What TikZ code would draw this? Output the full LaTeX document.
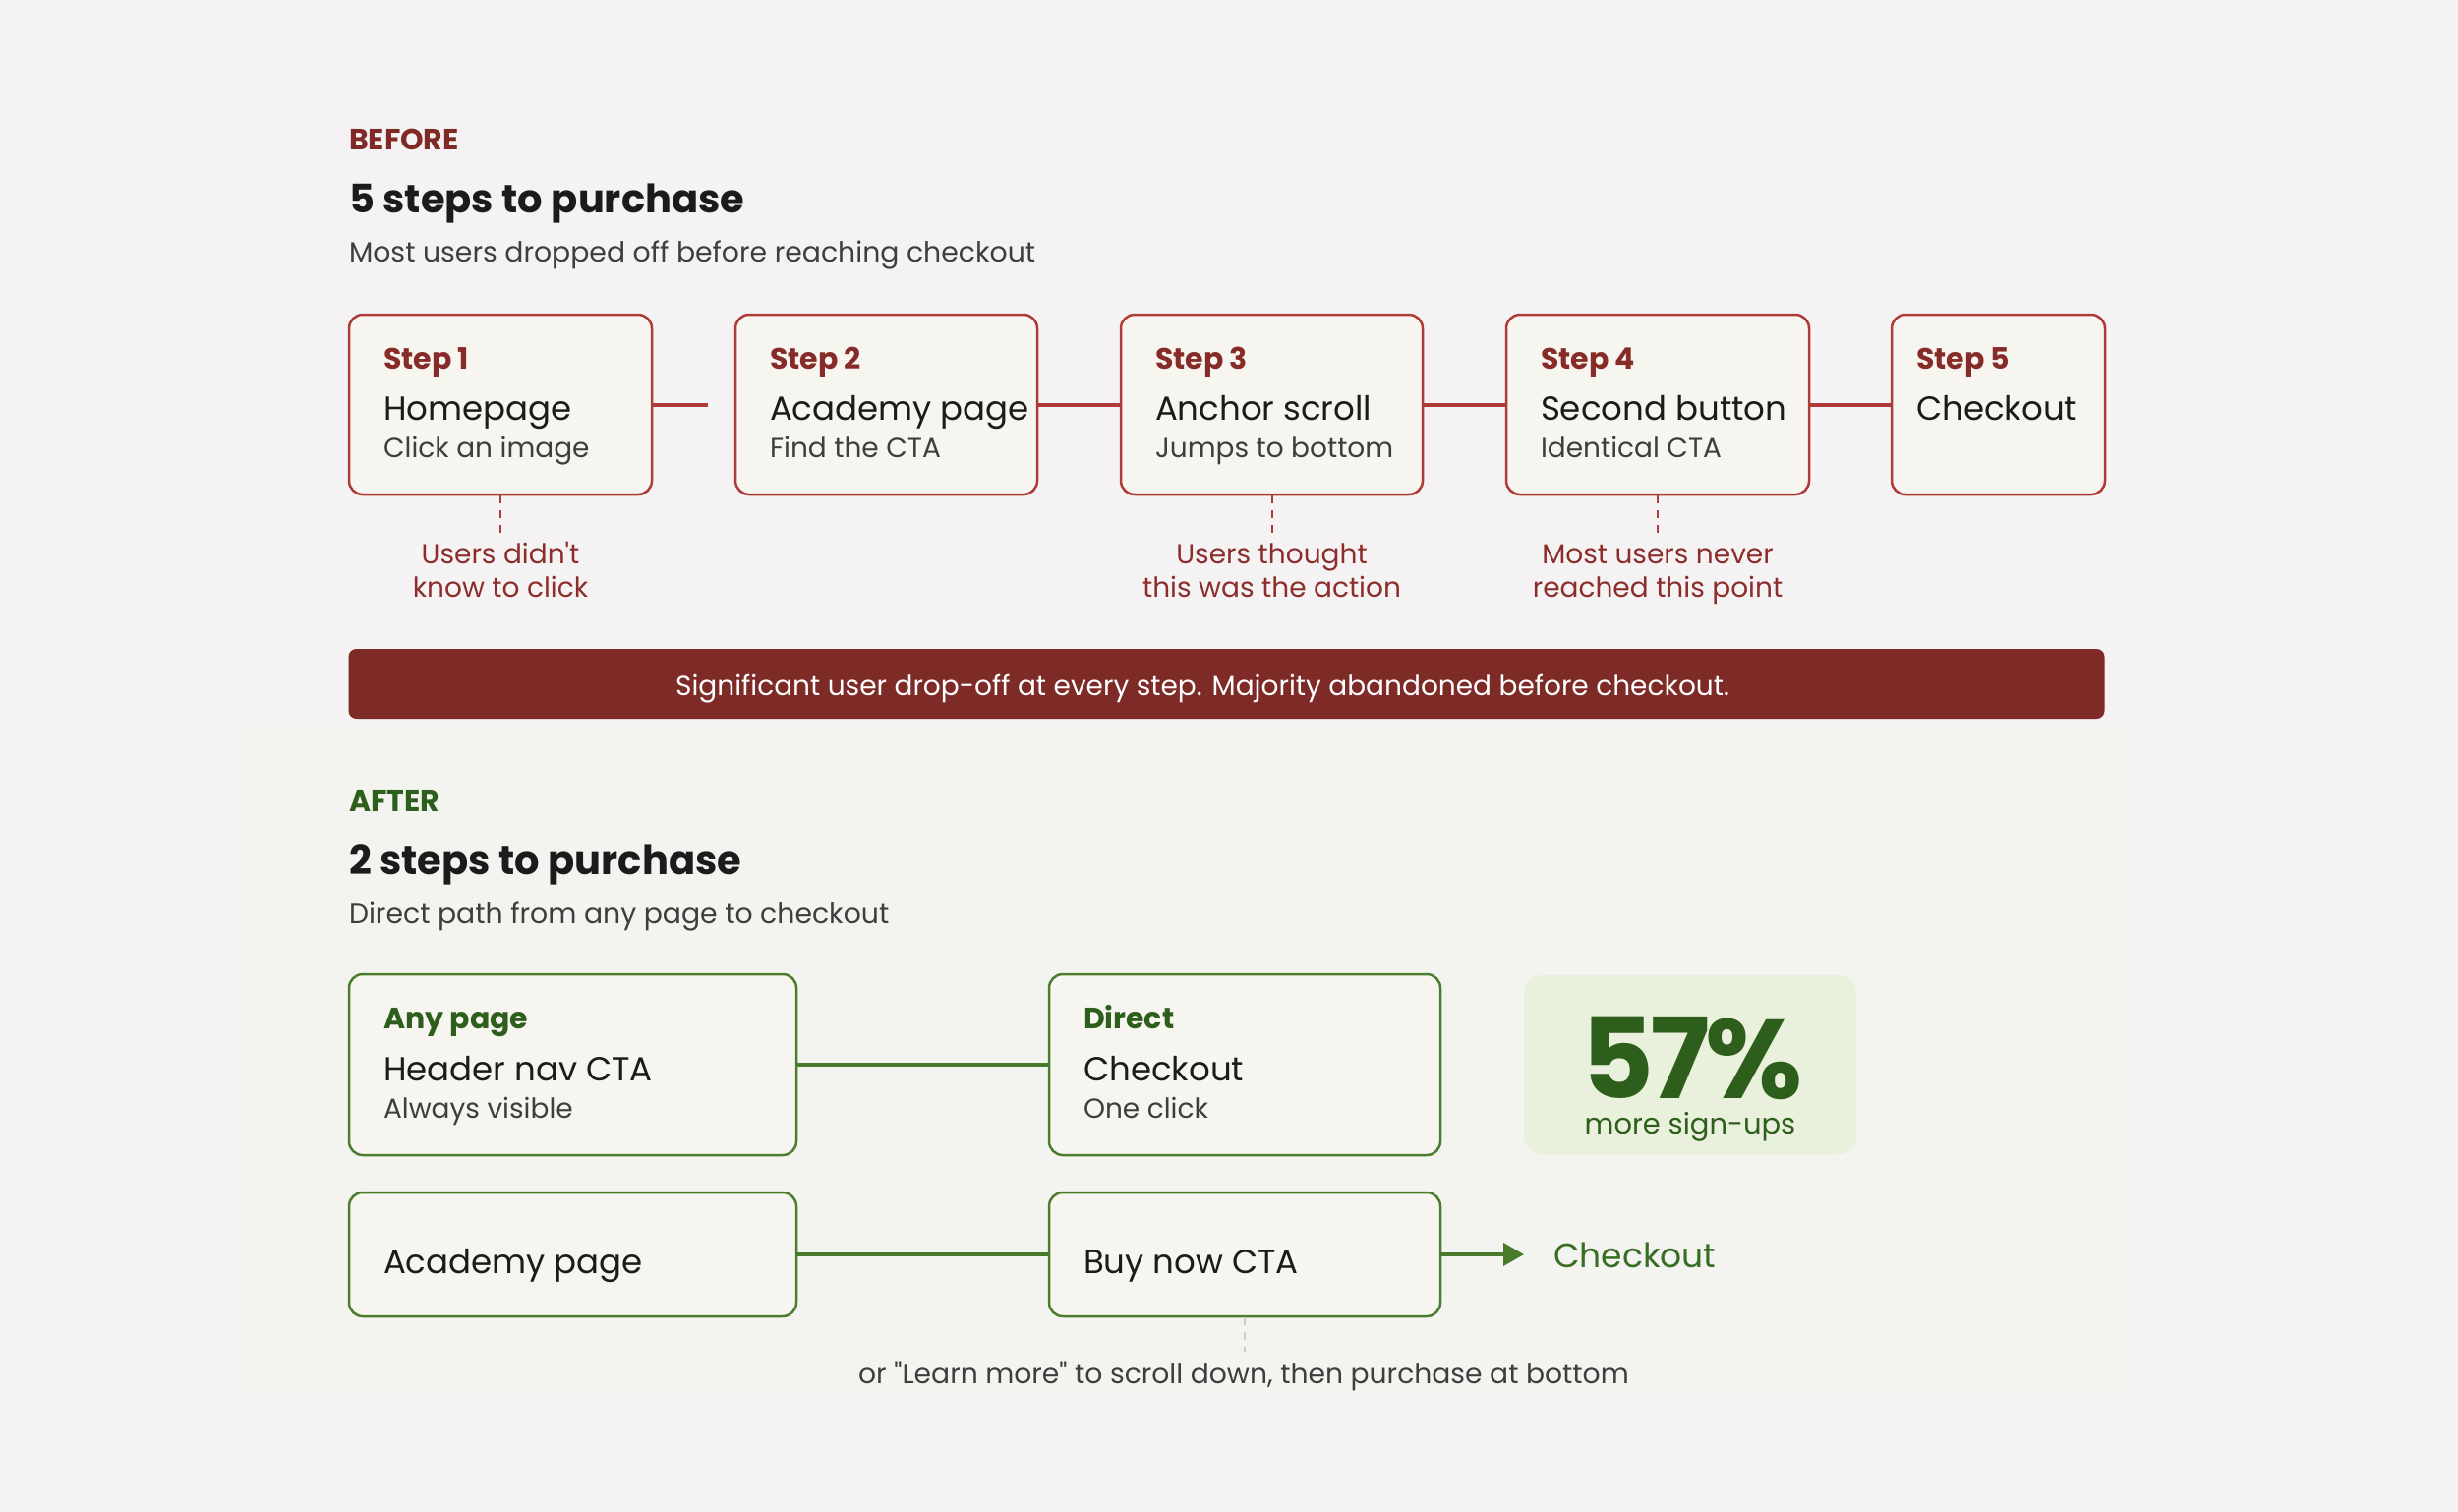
\documentclass[tikz,border=0pt]{standalone}
\usepackage{fontspec}
\setmainfont{Poppins}[Ligatures=TeXOff]
\usetikzlibrary{arrows.meta}
\definecolor{bg}{HTML}{F4F2F2}
\definecolor{panelbg}{HTML}{F3F3F0}
\definecolor{boxfill}{HTML}{F6F5EF}
\definecolor{boxred}{HTML}{AE3B37}
\definecolor{darkred}{HTML}{7F2A27}
\definecolor{labred}{HTML}{862B28}
\definecolor{notered}{HTML}{8B2E2B}
\definecolor{bannerred}{HTML}{7E2B28}
\definecolor{darkgreen}{HTML}{2E5E1B}
\definecolor{boxgreen}{HTML}{4B7D2E}
\definecolor{linegreen}{HTML}{477A2A}
\definecolor{ckgreen}{HTML}{3A6D24}
\definecolor{statbg}{HTML}{E9F0DC}
\definecolor{ink}{HTML}{1B1B1B}
\definecolor{subgray}{HTML}{3E3E3E}
\definecolor{dashgray}{HTML}{CCCCCC}
\newcommand{\fsz}[1]{\fontsize{#1}{#1}\selectfont}
\begin{document}
\begin{tikzpicture}[x=1pt,y=-1pt,
  txt/.style={anchor=base west, inner sep=0pt, outer sep=0pt},
  ctxt/.style={anchor=base, inner sep=0pt, outer sep=0pt},
  redbox/.style={draw=boxred, line width=2.5pt, fill=boxfill, rounded corners=14pt, minimum height=183pt, inner sep=0pt},
  greenbox/.style={draw=boxgreen, line width=2.5pt, fill=boxfill, rounded corners=14pt, inner sep=0pt},
  redline/.style={draw=boxred, line width=4pt},
  greenline/.style={draw=linegreen, line width=4pt},
  reddash/.style={draw=boxred, line width=2pt, dash pattern=on 8pt off 7pt},
  graydash/.style={draw=dashgray, line width=1.5pt, dash pattern=on 8pt off 7pt},
  lab/.style={txt, font=\fsz{30}\bfseries},
  main/.style={txt, font=\fsz{34}, text=ink},
  subt/.style={txt, font=\fsz{28}, text=subgray},
  note/.style={ctxt, font=\fsz{28}, text=notered}
]
\useasboundingbox (0,0) rectangle (2500,1538);
\fill[bg] (0,0) rectangle (2500,1538);
\fill[panelbg] (239,737) rectangle (2172,1418);

% BEFORE header
\node[txt, font=\fsz{30}\bfseries, text=darkred] (bhead) at (355,153) {BEFORE};
\node[txt, font=\fsz{40}\bfseries, text=ink] (btitle) at (355,217) {5 steps to purchase};
\node[txt, font=\fsz{28.3}, text=subgray] (bsub) at (355,267) {Most users dropped off before reaching checkout};

% step boxes
\node[redbox, minimum width=308pt] (s1) at (509,411.5) {};
\node[redbox, minimum width=307pt] (s2) at (901.5,411.5) {};
\node[redbox, minimum width=307pt] (s3) at (1293.5,411.5) {};
\node[redbox, minimum width=308pt] (s4) at (1686,411.5) {};
\node[redbox, minimum width=217pt] (s5) at (2032.5,411.5) {};

\coordinate (c1) at (720,411.5);
\draw[redline] (s1.east) -- (c1);
\draw[redline] (s2.east) -- (s3.west);
\draw[redline] (s3.east) -- (s4.west);
\draw[redline] (s4.east) -- (s5.west);

\node[lab, text=labred] (s1l) at (390,375) {Step 1};
\node[main] (s1m) at (390,427) {Homepage};
\node[subt] (s1s) at (390,465) {Click an image};
\node[lab, text=labred] (s2l) at (783,375) {Step 2};
\node[main] (s2m) at (783,427) {Academy page};
\node[subt] (s2s) at (783,465) {Find the CTA};
\node[lab, text=labred] (s3l) at (1175,375) {Step 3};
\node[main] (s3m) at (1175,427) {Anchor scroll};
\node[subt] (s3s) at (1175,465) {Jumps to bottom};
\node[lab, text=labred] (s4l) at (1567,375) {Step 4};
\node[main] (s4m) at (1567,427) {Second button};
\node[subt] (s4s) at (1567,465) {Identical CTA};
\node[lab, text=labred] (s5l) at (1949,375) {Step 5};
\node[main] (s5m) at (1949,427) {Checkout};

% drop-off notes
\coordinate (d1) at (509,543);
\coordinate (d3) at (1293.5,543);
\coordinate (d4) at (1686,543);
\draw[reddash] (s1.south) -- (d1);
\draw[reddash] (s3.south) -- (d3);
\draw[reddash] (s4.south) -- (d4);
\node[note] (n1a) at (509,573) {Users didn't};
\node[note] (n1b) at (509,607) {know to click};
\node[note] (n3a) at (1293.5,573) {Users thought};
\node[note] (n3b) at (1293.5,607) {this was the action};
\node[note] (n4a) at (1686,573) {Most users never};
\node[note] (n4b) at (1686,607) {reached this point};

% banner
\node[fill=bannerred, rounded corners=8pt, minimum width=1786pt, minimum height=71pt, inner sep=0pt] (banner) at (1247.5,695.5) {};
\node[ctxt, font=\fsz{28}, text=white] (bannertxt) at (1223,707) {Significant user drop-off at every step. Majority abandoned before checkout.};

% AFTER header
\node[txt, font=\fsz{30}\bfseries, text=darkgreen] (ahead) at (355,825) {AFTER};
\node[txt, font=\fsz{40}\bfseries, text=ink] (atitle) at (355,889) {2 steps to purchase};
\node[txt, font=\fsz{28.3}, text=subgray] (asub) at (355,939) {Direct path from any page to checkout};

% after boxes
\node[greenbox, minimum width=455pt, minimum height=184pt] (a1) at (582.5,1083) {};
\node[greenbox, minimum width=398pt, minimum height=184pt] (a2) at (1266,1083) {};
\node[fill=statbg, rounded corners=18pt, minimum width=338pt, minimum height=182pt, inner sep=0pt] (stat) at (1719,1083) {};
\node[greenbox, minimum width=455pt, minimum height=126pt] (b1) at (582.5,1276) {};
\node[greenbox, minimum width=398pt, minimum height=126pt] (b2) at (1266,1276) {};

\draw[greenline] (a1.east) -- (a2.west);
\draw[greenline] (b1.east) -- (b2.west);
\coordinate (ck) at (1550,1276);
\draw[greenline, -{Triangle[length=21pt,width=23pt]}] (b2.east) -- (ck);

\node[lab, text=darkgreen] (a1l) at (390,1046) {Any page};
\node[main] (a1m) at (390,1099) {Header nav CTA};
\node[subt] (a1s) at (390,1137) {Always visible};
\node[lab, text=darkgreen] (a2l) at (1102,1046) {Direct};
\node[main] (a2m) at (1102,1099) {Checkout};
\node[subt] (a2s) at (1102,1137) {One click};
\node[main] (b1m) at (390,1295) {Academy page};
\node[main] (b2m) at (1102,1295) {Buy now CTA};
\node[txt, font=\fsz{34.5}, text=ckgreen] (cktxt) at (1580,1289) {Checkout};

\node[ctxt, font=\fsz{114}\bfseries\addfontfeature{LetterSpace=-4}, text=darkgreen] (pct) at (1721,1117) {57\%};
\node[ctxt, font=\fsz{29}, text=darkgreen] (pctsub) at (1719,1153) {more sign-ups};

\coordinate (fn) at (1266,1375);
\draw[graydash] (b2.south) -- (fn);
\node[ctxt, font=\fsz{28.2}, text=subgray] (fntxt) at (1265,1407) {or "Learn more" to scroll down, then purchase at bottom};
\end{tikzpicture}
\end{document}
